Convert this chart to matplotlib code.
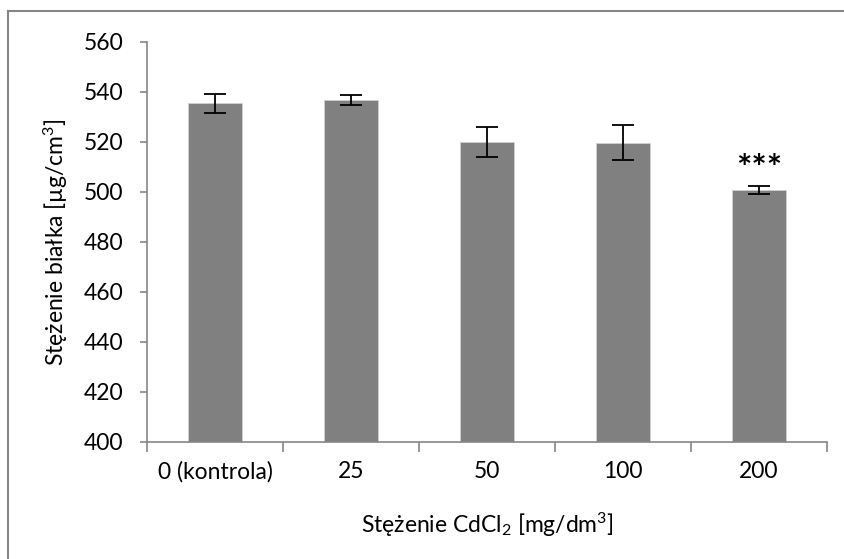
import matplotlib
matplotlib.use("Agg")
import matplotlib.pyplot as plt
import numpy as np

# dane
kategorie = ["0 (kontrola)", "25", "50", "100", "200"]
stezenie = [535.5, 537.0, 520.0, 519.7, 500.9]
blad = [3.9, 2.0, 6.0, 7.0, 1.5]
gwiazdki = ["", "", "", "", "***"]

plt.rcParams['font.family'] = ['Lato', 'DejaVu Sans']
plt.rcParams['mathtext.fontset'] = 'custom'
plt.rcParams['mathtext.rm'] = 'Lato'
plt.rcParams['mathtext.it'] = 'Lato:italic'
plt.rcParams['mathtext.bf'] = 'Lato:bold'

fs = 16.5

fig = plt.figure(figsize=(8.44, 5.59), dpi=100)
ax = fig.add_axes([147/844, 1 - 442/559, (827 - 147)/844, (442 - 42)/559])

x = np.arange(len(kategorie))
ax.bar(x, [s - 400 for s in stezenie], bottom=400, width=0.4, color="#808080",
       edgecolor="#d0d0d0", linewidth=0.6, zorder=2)
ax.errorbar(x, stezenie, yerr=blad, fmt="none", ecolor="black", elinewidth=1.3,
            capsize=8, capthick=1.3, zorder=3)

for xi, s, e, g in zip(x, stezenie, blad, gwiazdki):
    if g:
        ax.annotate(g, (xi, s + e), xytext=(0, 0), textcoords="offset points",
                    ha="center", va="bottom", fontsize=26, fontweight="bold")

ax.set_xlim(-0.5, len(kategorie) - 0.5)
ax.set_ylim(400, 560)
ax.set_yticks(np.arange(400, 561, 20))

# podpisy kategorii bez kresek, kreski na granicach kategorii
ax.set_xticks(x)
ax.set_xticklabels(kategorie)
ax.tick_params(axis="x", length=0, pad=14, labelsize=fs)
ax.set_xticks(np.arange(-0.5, len(kategorie)), minor=True)
ax.tick_params(axis="x", which="minor", length=7, color="#868686", width=1.2)
ax.tick_params(axis="y", length=5, color="#868686", width=1.2, pad=12, labelsize=fs)

for side in ["top", "right"]:
    ax.spines[side].set_visible(False)
for side in ["left", "bottom"]:
    ax.spines[side].set_color("#868686")
    ax.spines[side].set_linewidth(1.2)

ax.set_ylabel("Stężenie białka [µg/cm$^3$]", fontsize=fs, labelpad=10)
ax.set_xlabel("Stężenie CdCl$_2$ [mg/dm$^3$]", fontsize=fs, labelpad=20)

# ramka obszaru wykresu (lewa i górna krawędź)
fig.add_artist(plt.Line2D([8/844, 8/844], [0, 1 - 11/559], color="#868686", lw=1.5))
fig.add_artist(plt.Line2D([8/844, 1], [1 - 11/559, 1 - 11/559], color="#868686", lw=1.5))

fig.savefig("out.png", dpi=100)
